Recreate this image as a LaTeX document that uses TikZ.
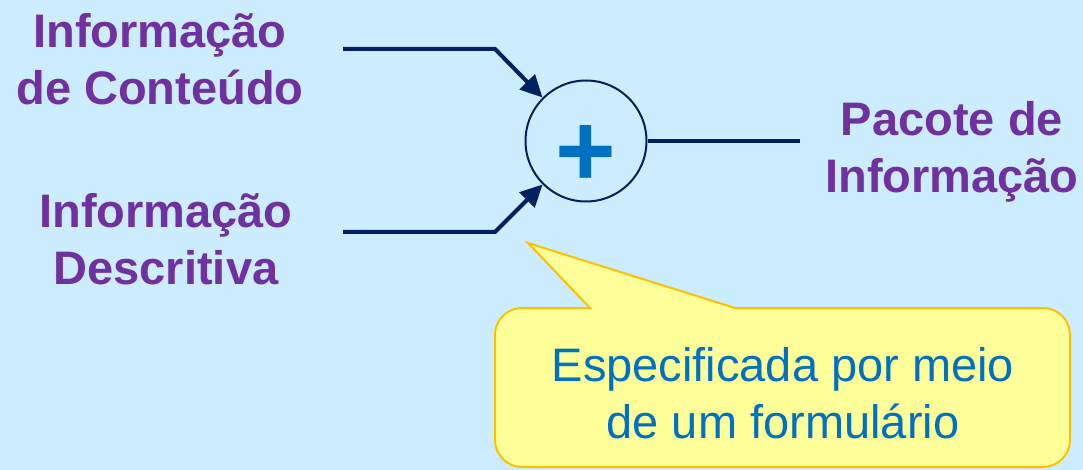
\documentclass[tikz,border=0pt]{standalone}
\usepackage{fontspec}
\setmainfont{Liberation Sans}
\usetikzlibrary{arrows.meta}
\definecolor{bgblue}{HTML}{CCECFF}
\definecolor{lblpurple}{HTML}{7030A0}
\definecolor{navy}{HTML}{002060}
\definecolor{plusblue}{HTML}{0070C0}
\definecolor{notefill}{HTML}{FFFF99}
\definecolor{noteline}{HTML}{FFC000}
\tikzset{
  lbl/.style={text=lblpurple, font=\fontsize{47}{57}\selectfont\bfseries, align=center, inner sep=0pt, anchor=north},
  conn/.style={draw=navy, line width=4pt, -{Triangle[length=22pt,width=21pt]}},
  plainconn/.style={draw=navy, line width=3.5pt},
  sumnode/.style={circle, draw=navy, line width=2pt, minimum size=121pt, inner sep=0pt},
  plussign/.style={text=plusblue, font=\fontsize{104}{108}\selectfont\bfseries, inner sep=0pt},
  notetext/.style={text=plusblue, font=\fontsize{47}{57}\selectfont, align=center, inner sep=0pt, anchor=north},
  notebox/.style={fill=notefill, draw=noteline, line width=2pt, line join=miter}
}
\begin{document}
\begin{tikzpicture}[x=1pt,y=-1pt]
\useasboundingbox (0,0) rectangle (1083,470);
\fill[bgblue] (0,0) rectangle (1083,470);
% callout
\path[notebox] (590,308) -- (528,243) -- (735,308) -- (1043,308)
  arc[start angle=90,end angle=0,radius=27pt] -- (1070,440)
  arc[start angle=0,end angle=-90,radius=27pt] -- (522,467)
  arc[start angle=-90,end angle=-180,radius=27pt] -- (495,335)
  arc[start angle=180,end angle=90,radius=27pt] -- cycle;
\node[notetext] (note) at (783,347) {Especificada por meio\\de um formulário};
% labels
\node[lbl] (content) at (160,13) {Informação\\de Conteúdo};
\node[lbl] (descr) at (166,193) {Informação\\Descritiva};
\node[lbl] (packet) at (952,101) {Pacote de\\Informação};
% sum
\node[sumnode] (circ) at (586,141) {};
\node[plussign] (plus) at (586,156) {+};
\coordinate (a1) at (343,49);
\coordinate (b1) at (495,49);
\coordinate (a2) at (343,232);
\coordinate (b2) at (495,232);
\coordinate (outend) at (800,141);
\draw[conn] (a1) -- (b1) -- (circ.135);
\draw[conn] (a2) -- (b2) -- (circ.225);
\draw[plainconn] (circ.east) -- (outend);
\end{tikzpicture}
\end{document}
